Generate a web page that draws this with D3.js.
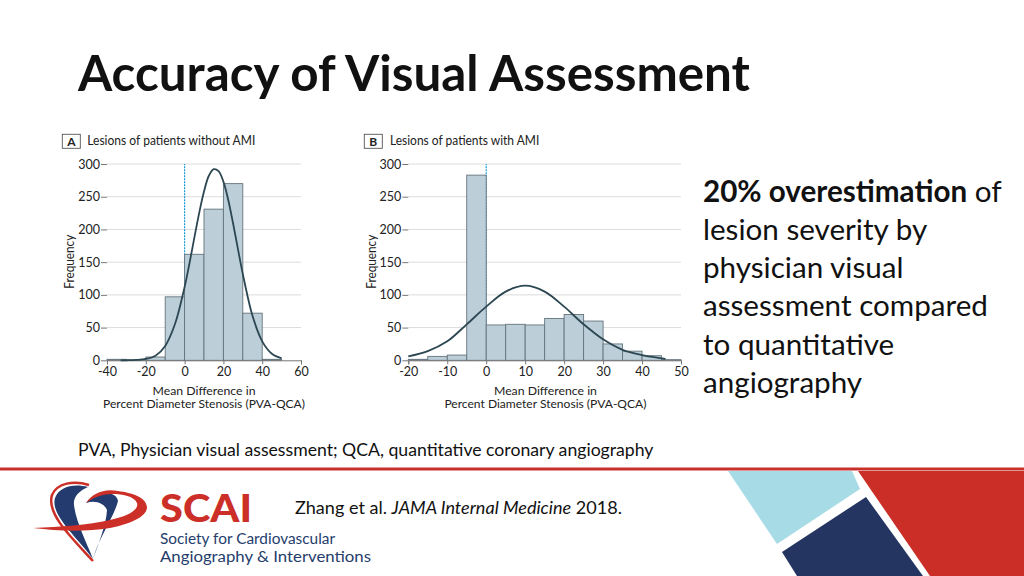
<!DOCTYPE html>
<html><head><meta charset="utf-8">
<script src="https://d3js.org/d3.v7.min.js"></script>
<style>html,body{margin:0;padding:0;background:#fff;}svg{display:block;}</style>
</head><body>
<script>
// ---------- data ----------
const binStartsA = [-40,-30,-20,-10,0,10,20,30,40,50];
const countsA    = [1.5,0.5,5,97,162,231,270,72,1.5,0];
const binWidthA  = 10;
const curveXA    = [-33,-30,-25,-20,-15,-10,-5,0,2.5,5,7.5,10,12.5,15,17.5,20,22.5,25,27.5,30,35,40,45,50];
const curveYA    = [0,0.1,0.5,2,7,22,55,112,148,187,225,258,282,292,289,273,245,209,170,132,68,29,10,3];
const binStartsB = [-20,-15,-10,-5,0,5,10,15,20,25,30,35,40,45];
const countsB    = [1.5,6,8,283,54,55,54,64,70,60,25,14,7,1];
const binWidthB  = 5;
const curveXB    = [-20,-15,-10,-5,0,5,10,15,20,25,30,35,40,45,46];
const curveYB    = [6,14,29,55,82,105,114,105,82,55,32,16,8,3,2];
const yTicks     = [0,50,100,150,200,250,300];
const xTicksA    = [-40,-20,0,20,40,60];
const xTicksB    = [-20,-10,0,10,20,30,40,50];
const panelTitles = ["Lesions of patients without AMI","Lesions of patients with AMI"];
const panelLetters = ["A","B"];
const bodyLines = ["lesion severity by","physician visual","assessment compared","to quantitative","angiography"];

const W=1024,H=576;
const svg=d3.select("body").append("svg").attr("width",W).attr("height",H);
const F="Lato, 'Open Sans', sans-serif";

function fit(t,w){const l=t.node().getComputedTextLength();const fs=parseFloat(t.attr("font-size"));t.attr("font-size",fs*w/l);return fs*w/l;}
function squeeze(t,w){t.attr("textLength",w).attr("lengthAdjust","spacingAndGlyphs");}

// ---------- slide title ----------
const title=svg.append("text").attr("x",78).attr("y",91).attr("font-family",F).attr("font-weight",700)
  .attr("font-size",48).attr("fill","#111").text("Accuracy of Visual Assessment");
fit(title,672);

// ---------- panels ----------
const y=d3.scaleLinear().domain([0,300]).range([360.3,164]);
function panel(o){
  const g=svg.append("g");
  const x=o.x;
  const [x0,x1]=x.range();
  g.append("g").selectAll("line").data(yTicks.filter(d=>d>0)).join("line")
    .attr("x1",x0).attr("x2",x1).attr("y1",d=>y(d)).attr("y2",d=>y(d))
    .attr("stroke","#dcdcdc").attr("stroke-width",1);
  g.append("line").attr("x1",x(0)).attr("x2",x(0)).attr("y1",y(0)).attr("y2",y(300))
    .attr("stroke","#1b9ad8").attr("stroke-width",1.2).attr("stroke-dasharray","2,1");
  g.append("g").selectAll("rect").data(o.starts.map((s,i)=>({s,c:o.counts[i]})).filter(d=>d.c>0)).join("rect")
    .attr("x",d=>x(d.s)).attr("width",d=>x(d.s+o.bw)-x(d.s))
    .attr("y",d=>y(d.c)).attr("height",d=>y(0)-y(d.c))
    .attr("fill","#bccfd9").attr("stroke","#64737c").attr("stroke-width",0.9);
  const ya=g.append("g").attr("transform",`translate(${x0},0)`)
    .call(d3.axisLeft(y).tickValues(yTicks).tickSize(6).tickPadding(1));
  ya.select(".domain").remove();
  ya.selectAll("line").attr("stroke","#777");
  ya.selectAll("text").attr("font-family",F).attr("font-size",12.5).attr("fill","#222");
  const xa=g.append("g").attr("transform",`translate(0,${y(0)})`)
    .call(d3.axisBottom(x).tickValues(o.xt).tickSize(4).tickPadding(3).tickFormat(d=>String(d)));
  xa.select(".domain").attr("stroke","#777");
  xa.selectAll("line").attr("stroke","#777");
  xa.selectAll("text").attr("font-family",F).attr("font-size",12.5).attr("fill","#222");
  const line=d3.line().x(d=>x(d[0])).y(d=>y(d[1])).curve(d3.curveCatmullRom.alpha(0.5));
  g.append("path").datum(o.cx.map((v,i)=>[v,o.cy[i]])).attr("d",line)
    .attr("fill","none").attr("stroke","#2c4752").attr("stroke-width",1.8);
  g.append("rect").attr("x",o.bx).attr("y",134.3).attr("width",18).attr("height",14)
    .attr("fill","#fff").attr("stroke","#555").attr("stroke-width",0.9);
  g.append("text").attr("x",o.bx+9).attr("y",145.5).attr("text-anchor","middle").attr("font-family",F)
    .attr("font-weight",700).attr("font-size",12).attr("fill","#222").text(o.letter);
  const ht=g.append("text").attr("x",o.tx).attr("y",145).attr("font-family",F).attr("font-size",13)
    .attr("fill","#222").text(o.title);
  squeeze(ht,o.tw);
  const fl=g.append("text").attr("transform",`translate(${o.fx},261.7) rotate(-90)`).attr("text-anchor","middle")
    .attr("dy","0.35em").attr("font-family",F).attr("font-size",13).attr("fill","#222").text("Frequency");
  squeeze(fl,54);
  const cx=(x0+x1)/2+o.lxo;
  const l2=g.append("text").attr("x",cx).attr("y",408).attr("text-anchor","middle").attr("font-family",F)
    .attr("font-size",11.2).attr("fill","#222").text("Percent Diameter Stenosis (PVA-QCA)");
  squeeze(l2,202);
  const l1=g.append("text").attr("x",cx).attr("y",394.5).attr("text-anchor","middle").attr("font-family",F)
    .attr("font-size",11.2).attr("fill","#222").text("Mean Difference in");
  squeeze(l1,103);
}
panel({x:d3.scaleLinear().domain([-40,60]).range([107,301]),starts:binStartsA,counts:countsA,bw:binWidthA,
  cx:curveXA,cy:curveYA,xt:xTicksA,bx:62.3,tx:87.3,tw:168,letter:panelLetters[0],title:panelTitles[0],fx:69.3,lxo:0});
panel({x:d3.scaleLinear().domain([-20,50]).range([408.3,681]),starts:binStartsB,counts:countsB,bw:binWidthB,
  cx:curveXB,cy:curveYB,xt:xTicksB,bx:364.3,tx:390,tw:149.3,letter:panelLetters[1],title:panelTitles[1],fx:371.7,lxo:0.8});

// ---------- right text ----------
const baselines=[201.5,239.8,278,316.3,354.6,392.8];
const probe=svg.append("text").attr("x",703).attr("y",baselines[3]).attr("font-family",F).attr("font-size",30)
  .attr("fill","#111").text(bodyLines[2]);
const bfs=fit(probe,285);
probe.remove();
const t1=svg.append("text").attr("x",703).attr("y",baselines[0]).attr("font-family",F).attr("font-size",bfs).attr("fill","#111");
t1.append("tspan").attr("font-weight",700).text("20% overestimation");
t1.append("tspan").text(" of");
bodyLines.forEach((s,i)=>svg.append("text").attr("x",703).attr("y",baselines[i+1]).attr("font-family",F)
  .attr("font-size",bfs).attr("fill","#111").text(s));

// ---------- footnote ----------
const fn=svg.append("text").attr("x",78).attr("y",455.5).attr("font-family",F).attr("font-size",15).attr("fill","#111")
  .text("PVA, Physician visual assessment; QCA, quantitative coronary angiography");
fit(fn,576);

// ---------- footer ----------
svg.append("rect").attr("x",0).attr("y",467.5).attr("width",W).attr("height",3).attr("fill","#c8302a");
svg.append("path").attr("d","M728,471 L852,471 L860,489 L777,544 Z").attr("fill","#a7dce6");
svg.append("path").attr("d","M782,552 L866,497 L923,576 L797,576 Z").attr("fill","#233560");
svg.append("path").attr("d","M858,471 L1024,471 L1024,576 L930,576 Z").attr("fill","#cb2e27");

const cit=svg.append("text").attr("x",295).attr("y",514).attr("font-family",F).attr("font-size",16).attr("fill","#111");
cit.append("tspan").text("Zhang et al. ");
cit.append("tspan").attr("font-style","italic").text("JAMA Internal Medicine");
cit.append("tspan").text(" 2018.");
fit(cit,327);

// SCAI logo
const lg=svg.append("g");
lg.append("path").attr("d","M93,559 C78,538 50,515 55,498 C59,487 73,483 88,487 C79,491 73,497 74,505 C76,522 86,541 93,559 Z").attr("fill","#233b6e");
lg.append("path").attr("d","M93,559 C99,537 114,517 118,501 C117,494 107,491 98,494 C93,496 89,499 86,503 C95,500 104,503 107,510 C106,526 98,545 93,559 Z").attr("fill","#233b6e");
lg.append("path").attr("d","M93,561 C72,538 46,514 52,495 C57,483 74,480 89,485").attr("fill","none").attr("stroke","#cc2f27").attr("stroke-width",2.5);
lg.append("path").attr("d","M86,503 C92,493 105,488 118,491 C132,493 146,497 147,507 C147,517 130,524 110,528 C85,532 58,531 33,528 C60,527 88,525 110,520 C128,516 139,510 137,503 C134,496 122,494 113,494 C103,494 94,497 86,503 Z").attr("fill","#cc2f27");

const sc=svg.append("text").attr("x",160).attr("y",522).attr("font-family",F).attr("font-weight",900)
  .attr("font-size",37).attr("fill","#cc2f27").text("SCAI");
squeeze(sc,92);
const s1=svg.append("text").attr("x",160).attr("y",544).attr("font-family",F).attr("font-size",15.5).attr("fill","#253d6b")
  .text("Society for Cardiovascular");
squeeze(s1,175);
const s2=svg.append("text").attr("x",160).attr("y",561.5).attr("font-family",F).attr("font-size",15.5).attr("fill","#253d6b")
  .text("Angiography & Interventions");
squeeze(s2,211);
</script>
</body></html>
